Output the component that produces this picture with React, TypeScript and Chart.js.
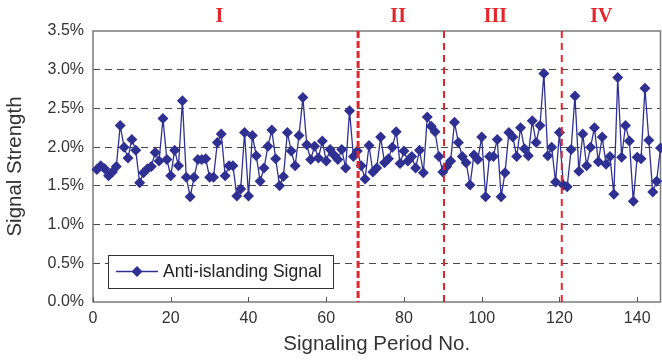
import React, { useEffect, useRef } from "react";
import { Chart, registerables } from "chart.js";

Chart.register(...registerables);

// ---- data ----
const signalStrength: number[] = [
  1.71, 1.76, 1.72, 1.63, 1.68, 1.75, 2.28, 2.0, 1.86, 2.1,
  1.96, 1.54, 1.67, 1.72, 1.75, 1.93, 1.82, 2.37, 1.84, 1.63,
  1.96, 1.76, 2.6, 1.61, 1.36, 1.61, 1.84, 1.84, 1.85, 1.61,
  1.61, 2.06, 2.17, 1.63, 1.76, 1.76, 1.37, 1.46, 2.19, 1.37,
  2.15, 1.89, 1.56, 1.73, 2.01, 2.22, 1.85, 1.5, 1.62, 2.19,
  1.95, 1.76, 2.15, 2.64, 2.03, 1.84, 2.01, 1.86, 2.08, 1.82,
  1.97, 1.9, 1.84, 1.97, 1.73, 2.47, 1.88, 1.95, 1.76, 1.59,
  2.02, 1.68, 1.73, 2.13, 1.8, 1.85, 2.0, 2.2, 1.79, 1.95,
  1.82, 1.88, 1.73, 1.96, 1.67, 2.39, 2.27, 2.2, 1.88, 1.68,
  1.75, 1.82, 2.32, 2.06, 1.88, 1.8, 1.51, 1.9, 1.84, 2.13,
  1.36, 1.88, 1.88, 2.1, 1.36, 1.67, 2.19, 2.13, 1.88, 2.25,
  1.98, 1.89, 2.34, 2.06, 2.28, 2.95, 1.89, 2.0, 1.55, 2.19,
  1.51, 1.49, 1.97, 2.66, 1.69, 2.17, 1.76, 2.0, 2.25, 1.81,
  2.13, 1.78, 1.88, 1.39, 2.9, 1.87, 2.28, 2.08, 1.3, 1.87,
  1.85, 2.76, 2.09, 1.42, 1.56, 1.99,
];
const periods: number[] = signalStrength.map((_, i) => i + 1);
const seriesName = "Anti-islanding Signal";
const xMin = 0;
const xMax = 146;
const xStep = 20;
const yMin = 0;
const yMax = 3.5;
const yStep = 0.5;
const phaseBoundaries: number[] = [68.2, 90.3, 120.6];
const phaseNames: string[] = ["I", "II", "III", "IV"];
const phaseLabelAt: number[] = [32.5, 78.5, 103.5, 130.8];
const xTitle = "Signaling Period No.";
const yTitle = "Signal Strength";

const NAVY = "#2E3192";
const RED = "#E5252B";
const FONT = "'Liberation Sans', Arial, sans-serif";

const overlay = {
  id: "overlay",
  beforeDatasetsDraw(chart: any) {
    const { ctx, chartArea: a, scales } = chart;
    const x = scales.x;
    ctx.save();
    ctx.strokeStyle = "#7a7a7a";
    ctx.lineWidth = 1.5;
    ctx.setLineDash([]);
    ctx.strokeRect(a.left, a.top, a.right - a.left, a.bottom - a.top);
    ctx.strokeStyle = "#555";
    ctx.lineWidth = 1;
    for (const t of x.ticks) {
      const px = Math.round(x.getPixelForValue(t.value)) + 0.5;
      ctx.beginPath();
      ctx.moveTo(px, a.bottom);
      ctx.lineTo(px, a.bottom - 5);
      ctx.stroke();
    }
    ctx.restore();
  },
  afterDatasetsDraw(chart: any) {
    const { ctx, chartArea: a, scales } = chart;
    const x = scales.x;
    ctx.save();
    phaseBoundaries.forEach((b, i) => {
      const px = x.getPixelForValue(b);
      ctx.strokeStyle = RED;
      ctx.lineWidth = i === 0 ? 3 : 2;
      ctx.setLineDash(i === 0 ? [7, 3] : [7, 5]);
      ctx.beginPath();
      ctx.moveTo(px, a.top);
      ctx.lineTo(px, a.bottom);
      ctx.stroke();
    });
    ctx.setLineDash([]);
    ctx.fillStyle = RED;
    ctx.font = "bold 20px 'Liberation Serif', 'Times New Roman', serif";
    ctx.textAlign = "center";
    ctx.textBaseline = "middle";
    phaseNames.forEach((n, i) => {
      ctx.fillText(n, x.getPixelForValue(phaseLabelAt[i]), 17);
    });
    // legend box
    const bx = a.left + 15;
    const by = a.bottom - 47;
    const bw = 225;
    const bh = 33;
    ctx.fillStyle = "#fff";
    ctx.fillRect(bx, by, bw, bh);
    ctx.strokeStyle = "#333";
    ctx.lineWidth = 1;
    ctx.strokeRect(bx + 0.5, by + 0.5, bw, bh);
    const ly = by + bh / 2;
    ctx.strokeStyle = NAVY;
    ctx.lineWidth = 1.5;
    ctx.beginPath();
    ctx.moveTo(bx + 8, ly);
    ctx.lineTo(bx + 50, ly);
    ctx.stroke();
    ctx.fillStyle = NAVY;
    ctx.beginPath();
    const cx = bx + 29;
    ctx.moveTo(cx, ly - 5.5);
    ctx.lineTo(cx + 5.5, ly);
    ctx.lineTo(cx, ly + 5.5);
    ctx.lineTo(cx - 5.5, ly);
    ctx.closePath();
    ctx.fill();
    ctx.fillStyle = "#222";
    ctx.font = `17.5px ${FONT}`;
    ctx.textAlign = "left";
    ctx.textBaseline = "middle";
    ctx.fillText(seriesName, bx + 55, ly + 1);
    ctx.restore();
  },
};

export default function App() {
  const ref = useRef<HTMLCanvasElement | null>(null);
  useEffect(() => {
    if (!ref.current) return;
    const chart = new Chart(ref.current, {
      type: "line",
      data: {
        datasets: [
          {
            label: seriesName,
            data: periods.map((p, i) => ({ x: p, y: signalStrength[i] })),
            borderColor: NAVY,
            backgroundColor: NAVY,
            borderWidth: 1.3,
            pointStyle: "rectRot",
            pointRadius: 5.5,
            pointBorderWidth: 0,
            pointBackgroundColor: NAVY,
            tension: 0,
            clip: false as any,
          },
        ],
      },
      options: {
        animation: false,
        responsive: false,
        layout: { autoPadding: false, padding: { top: 31, right: 1.5, left: 0, bottom: 0 } },
        plugins: { legend: { display: false }, tooltip: { enabled: false } },
        scales: {
          x: {
            type: "linear",
            min: xMin,
            max: xMax,
            ticks: {
              stepSize: xStep,
              includeBounds: false,
              color: "#333",
              font: { family: FONT, size: 16 },
              padding: 7,
            },
            grid: { display: false, drawTicks: false },
            border: { display: false },
            title: {
              display: true,
              text: xTitle,
              color: "#333",
              font: { family: FONT, size: 20.5 },
              padding: { top: 0, bottom: 3 },
            },
            afterFit: (s: any) => {
              s.height = 58;
              s.paddingLeft = 0;
              s.paddingRight = 0;
            },
          },
          y: {
            min: yMin,
            max: yMax,
            ticks: {
              stepSize: yStep,
              color: "#333",
              font: { family: FONT, size: 16 },
              padding: 9,
              callback: (v: any) => Number(v).toFixed(1) + "%",
            },
            grid: {
              drawTicks: false,
              color: (c: any) =>
                c.tick && (c.tick.value === yMin || c.tick.value === yMax)
                  ? "rgba(0,0,0,0)"
                  : "#4a4a4a",
              lineWidth: 1,
            },
            border: { display: false, dash: [7, 5] },
            title: {
              display: true,
              text: yTitle,
              color: "#333",
              font: { family: FONT, size: 20.5 },
              padding: { top: 3, bottom: 0 },
            },
            afterFit: (s: any) => {
              s.width = 93;
              s.paddingTop = 0;
              s.paddingBottom = 0;
            },
          },
        },
      },
      plugins: [overlay],
    });
    return () => chart.destroy();
  }, []);
  return (
    <div style={{ position: "fixed", left: 0, top: 0, width: 662, height: 360, background: "#fff" }}>
      <canvas ref={ref} width={662} height={360} style={{ display: "block" }} />
    </div>
  );
}
